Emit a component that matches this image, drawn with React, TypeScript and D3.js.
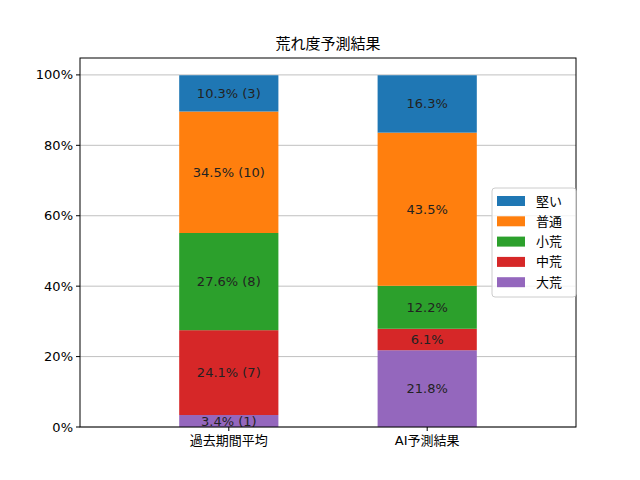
import React from "react";
import * as d3 from "d3";

const categories = ["過去期間平均", "AI予測結果"];
const seriesNames = ["大荒", "中荒", "小荒", "普通", "堅い"];
const seriesColors = ["#9467bd", "#d62728", "#2ca02c", "#ff7f0e", "#1f77b4"];
// values per series, [過去期間平均, AI予測結果]
const daiare = [3.4, 21.8];
const chuare = [24.1, 6.1];
const shoare = [27.6, 12.2];
const futsu = [34.5, 43.5];
const katai = [10.3, 16.3];
const pastCounts = [1, 7, 8, 10, 3];
const yTicks = [0, 20, 40, 60, 80, 100];

export default function App() {
  const W = 640, H = 480;
  const left = 80, right = 576, top = 58, bottom = 427;
  const font = "'DejaVu Sans', 'Noto Sans CJK JP', sans-serif";
  const series = [daiare, chuare, shoare, futsu, katai];

  const x = d3.scaleLinear().domain([-0.75, 1.75]).range([left, right]);
  const y = d3.scaleLinear().domain([0, 104.8]).range([bottom, top]);
  const bw = x(0.5) - x(0);

  const bars: any[] = [];
  categories.forEach((c, ci) => {
    let base = 0;
    series.forEach((s, si) => {
      const v = s[ci];
      const y0 = y(base), y1 = y(base + v);
      const label = ci === 0 ? `${v.toFixed(1)}% (${pastCounts[si]})` : `${v.toFixed(1)}%`;
      bars.push(
        <g key={`${ci}-${si}`}>
          <rect x={x(ci) - bw / 2} y={y1} width={bw} height={y0 - y1} fill={seriesColors[si]} />
          <text x={x(ci)} y={(y0 + y1) / 2} textAnchor="middle" dominantBaseline="central" fontSize={13} fill="#222">{label}</text>
        </g>
      );
      base += v;
    });
  });

  const legendOrder = [4, 3, 2, 1, 0];

  return (
    <svg width={W} height={H} style={{ position: "absolute", left: 0, top: 0, background: "#fff" }} fontFamily={font}>
      <rect width={W} height={H} fill="#fff" />
      {yTicks.map((t) => (
        <line key={t} x1={left} x2={right} y1={y(t)} y2={y(t)} stroke="#b0b0b0" strokeWidth={0.8} />
      ))}
      {bars}
      <rect x={left} y={top} width={right - left} height={bottom - top} fill="none" stroke="#000" strokeWidth={1} />
      {yTicks.map((t) => (
        <g key={"yt" + t}>
          <line x1={left - 4} x2={left} y1={y(t)} y2={y(t)} stroke="#000" />
          <text x={left - 7} y={y(t)} textAnchor="end" dominantBaseline="central" fontSize={13} fill="#000">{t}%</text>
        </g>
      ))}
      {categories.map((c, ci) => (
        <g key={c}>
          <line x1={x(ci)} x2={x(ci)} y1={bottom} y2={bottom + 4} stroke="#000" />
          <text x={x(ci)} y={bottom + 18} textAnchor="middle" fontSize={13} fill="#000">{c}</text>
        </g>
      ))}
      <text x={(left + right) / 2} y={49} textAnchor="middle" fontSize={15} fill="#000">荒れ度予測結果</text>
      <g>
        <rect x={492} y={188} width={84} height={109} rx={3} fill="#fff" fillOpacity={0.8} stroke="#ccc" />
        {legendOrder.map((si, i) => (
          <g key={si}>
            <rect x={497} y={196 + i * 20.3} width={28} height={10} fill={seriesColors[si]} />
            <text x={536} y={201 + i * 20.3} dominantBaseline="central" fontSize={13} fill="#000">{seriesNames[si]}</text>
          </g>
        ))}
      </g>
    </svg>
  );
}
